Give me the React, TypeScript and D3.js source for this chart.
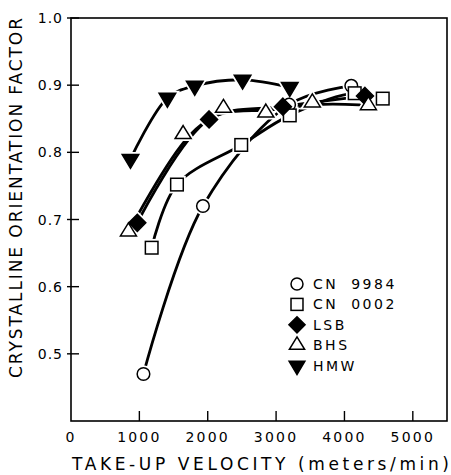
import React from "react";
import * as d3 from "d3";

const xTicks = [0, 1000, 2000, 3000, 4000, 5000];
const yTicks = [0.5, 0.6, 0.7, 0.8, 0.9, 1.0];
const yTickLabels = ["0.5", "0.6", "0.7", "0.8", "0.9", "1.0"];

const cn9984X = [1060, 1930, 3190, 4100];
const cn9984Y = [0.47, 0.72, 0.871, 0.899];
const cn0002X = [1180, 1550, 2490, 3200, 4150, 4560];
const cn0002Y = [0.658, 0.752, 0.811, 0.855, 0.888, 0.88];
const lsbX = [970, 2020, 3100, 4300];
const lsbY = [0.695, 0.849, 0.868, 0.884];
const bhsX = [840, 1640, 2230, 2850, 3530, 4350];
const bhsY = [0.682, 0.827, 0.866, 0.859, 0.874, 0.87];
const hmwX = [870, 1410, 1810, 2510, 3200];
const hmwY = [0.79, 0.881, 0.899, 0.908, 0.897];

const seriesNames = ["CN 9984", "CN 0002", "LSB", "BHS", "HMW"];
const seriesX = [cn9984X, cn0002X, lsbX, bhsX, hmwX];
const seriesY = [cn9984Y, cn0002Y, lsbY, bhsY, hmwY];
const seriesShape = ["circle", "square", "diamond", "triangle", "down"];
const seriesFill = ["white", "white", "black", "white", "black"];

const W = 451;
const H = 475;
const M = { left: 71, right: 447, top: 18, bottom: 421 };
const FONT = "'DejaVu Sans', sans-serif";

function Marker({ shape, x, y, fill, s = 1, halo = 0 }: any) {
  const stroke = halo ? "white" : "black";
  const sw = halo ? halo : 1.5;
  const f = halo ? "white" : fill;
  if (shape === "circle")
    return <circle cx={x} cy={y} r={6.3 * s} fill={f} stroke={stroke} strokeWidth={sw} />;
  if (shape === "square") {
    const h = 6.3 * s;
    return <rect x={x - h} y={y - h} width={2 * h} height={2 * h} fill={f} stroke={stroke} strokeWidth={sw} />;
  }
  if (shape === "diamond") {
    const h = 8.5 * s;
    return <path d={`M${x},${y - h}L${x + h},${y}L${x},${y + h}L${x - h},${y}Z`} fill={f} stroke={stroke} strokeWidth={sw} />;
  }
  if (shape === "triangle") {
    const w = 8 * s;
    const h = 13 * s;
    return <path d={`M${x},${y - (2 * h) / 3}L${x + w},${y + h / 3}L${x - w},${y + h / 3}Z`} fill={f} stroke={stroke} strokeWidth={sw} />;
  }
  const w = 8.3 * s;
  const h = 14 * s;
  return <path d={`M${x - w},${y - h / 3}L${x + w},${y - h / 3}L${x},${y + (2 * h) / 3}Z`} fill={f} stroke={stroke} strokeWidth={sw} />;
}

export default function App() {
  const x = d3.scaleLinear().domain([0, 5500]).range([M.left, M.right]);
  const y = d3.scaleLinear().domain([0.4, 1.0]).range([M.bottom, M.top]);

  const curves = [
    d3.curveCatmullRom.alpha(0.5),
    d3.curveCatmullRom.alpha(0.5),
    d3.curveCatmullRom.alpha(0.5),
    d3.curveBasis,
    d3.curveCatmullRom.alpha(0.5),
  ];

  const lines = seriesX.map((xs, i) => {
    const pts: [number, number][] = xs.map((v, j) => [x(v), y(seriesY[i][j])]);
    return d3.line().curve(curves[i] as any)(pts) || "";
  });

  const legendX = 297;
  const legendY0 = 284;
  const legendDy = 20.4;

  return (
    <svg width={W} height={H} style={{ position: "absolute", left: 0, top: 0, background: "white" }}>
      <rect x={0} y={0} width={W} height={H} fill="white" />
      <rect x={M.left} y={M.top} width={M.right - M.left} height={M.bottom - M.top} fill="none" stroke="black" strokeWidth={1.6} />
      {xTicks.map((t) => (
        <g key={"xt" + t}>
          {t > 0 && <line x1={x(t)} x2={x(t)} y1={M.bottom} y2={M.bottom - 10} stroke="black" strokeWidth={1.4} />}
          <text x={x(t)} y={442} textAnchor="middle" fontFamily={FONT} fontSize={14} letterSpacing={2.2} fill="black">
            {String(t)}
          </text>
        </g>
      ))}
      {yTicks.map((t, i) => (
        <g key={"yt" + t}>
          <line x1={M.left - 4} x2={M.left + 8} y1={y(t)} y2={y(t)} stroke="black" strokeWidth={1.4} />
          <text x={63} y={y(t)} dy="0.36em" textAnchor="end" fontFamily={FONT} fontSize={14} letterSpacing={1} fill="black">
            {yTickLabels[i]}
          </text>
        </g>
      ))}
      <text x={72} y={470} fontFamily={FONT} fontSize={17} textLength={377} lengthAdjust="spacing" fill="black">
        TAKE-UP VELOCITY (meters/min)
      </text>
      <text
        transform={`translate(22,378) rotate(-90)`}
        x={0}
        y={0}
        fontFamily={FONT}
        fontSize={17}
        textLength={360}
        lengthAdjust="spacing"
        fill="black"
      >
        CRYSTALLINE ORIENTATION FACTOR
      </text>
      {lines.map((d, i) => (
        <path key={"l" + i} d={d} fill="none" stroke="black" strokeWidth={2.8} />
      ))}
      {seriesX.map((xs, i) =>
        xs.map((v, j) => (
          <Marker key={`m${i}-${j}`} shape={seriesShape[i]} x={x(v)} y={y(seriesY[i][j])} fill={seriesFill[i]} halo={5} />
        ))
      )}
      {seriesX.map((xs, i) =>
        xs.map((v, j) => (
          <Marker key={`n${i}-${j}`} shape={seriesShape[i]} x={x(v)} y={y(seriesY[i][j])} fill={seriesFill[i]} />
        ))
      )}
      {seriesNames.map((n, i) => (
        <g key={"lg" + i}>
          <Marker shape={seriesShape[i]} x={legendX} y={legendY0 + i * legendDy} fill={seriesFill[i]} s={0.95} />
          <text
            x={legendX + 16}
            y={legendY0 + i * legendDy}
            dy="0.36em"
            fontFamily={FONT}
            fontSize={14}
            letterSpacing={2.5}
            wordSpacing={6}
            fill="black"
          >
            {n}
          </text>
        </g>
      ))}
    </svg>
  );
}
